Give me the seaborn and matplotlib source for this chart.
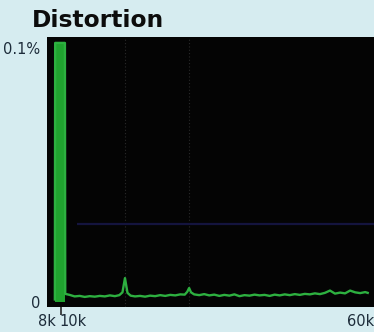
import matplotlib
matplotlib.use("Agg")
import matplotlib.pyplot as plt
import seaborn as sns
import pandas as pd

# Distortion spectrum (THD+N %), frequency in kHz
freq_khz = [9.25, 9.3, 9.7, 10.1, 10.5, 10.85, 10.9,
            11.6, 12.4, 13.2, 14.0, 14.8, 15.6, 16.4, 17.2, 18.0, 18.8, 19.5,
            20.0, 20.4, 20.8, 21.3,
            22.0, 22.8, 23.6, 24.4, 25.2, 26.0, 26.8, 27.6, 28.4, 29.2, 29.9,
            30.3, 30.6, 30.9, 31.4,
            32.2, 33.0, 33.8, 34.6, 35.4, 36.2, 37.0, 37.8, 38.6, 39.4, 40.2,
            41.0, 41.8, 42.6, 43.4, 44.2, 45.0, 45.8, 46.6, 47.4, 48.2, 49.0,
            49.8, 50.6, 51.4, 52.2, 53.0, 53.8, 54.6, 55.4, 56.2, 57.0, 57.8,
            58.6, 59.0]
thd_pct = [0.0010, 0.102, 0.102, 0.102, 0.102, 0.102, 0.0032,
           0.0028, 0.0022, 0.0024, 0.0020, 0.0023, 0.0021, 0.0024, 0.0022, 0.0026,
           0.0023, 0.0027,
           0.0038, 0.0094, 0.0036, 0.0025,
           0.0022, 0.0024, 0.0021, 0.0025, 0.0023, 0.0027, 0.0024, 0.0028, 0.0026,
           0.0030, 0.0029,
           0.0040, 0.0055, 0.0038, 0.0030,
           0.0027, 0.0031, 0.0026, 0.0029, 0.0024, 0.0028, 0.0025, 0.0030, 0.0023,
           0.0027, 0.0025, 0.0029, 0.0026, 0.0028, 0.0024, 0.0029, 0.0026, 0.0030,
           0.0027, 0.0031, 0.0028, 0.0032, 0.0030, 0.0034, 0.0031, 0.0036, 0.0045,
           0.0033, 0.0037, 0.0034, 0.0045, 0.0038, 0.0035, 0.0039, 0.0036]

x_ticks = [8, 10, 60]
x_labels = ["8k", "10k", "60k"]
y_ticks = [0, 0.1]
y_labels = ["0", "0.1%"]

fundamental_khz = 10.2
harmonics_khz = [20.4, 30.6]
ref_level = 0.0307

df = pd.DataFrame({"freq": freq_khz, "thd": thd_pct})

bg = "#d6ecf0"
green = "#2db040"
text_col = "#1d2c3a"

fig = plt.figure(figsize=(3.74, 3.32), dpi=100, facecolor=bg)
ax = fig.add_axes([47 / 374, 25 / 332, 1 - 47 / 374, 270 / 332])
ax.set_facecolor("#040404")

for h in harmonics_khz:
    ax.axvline(h, color="#2a2a2a", lw=0.8, ls=(0, (1, 2)), zorder=1)
ax.hlines(ref_level, 12.8, 60, color="#14143e", lw=1.6, zorder=1)

# clipped fundamental drawn as a solid column
spike = df[df["thd"] > 0.05]
ax.fill_between(spike["freq"], 0, spike["thd"], color="#20a32f", lw=0, zorder=2)

sns.lineplot(data=df, x="freq", y="thd", ax=ax, color=green, lw=1.7, zorder=3)

ax.set_xlim(8, 60)
ax.set_ylim(-5 / 2540, 0.1 + 11 / 2540)
ax.set_xlabel("")
ax.set_ylabel("")
for s in ax.spines.values():
    s.set_visible(False)

ax.set_xticks(x_ticks)
ax.set_xticklabels(x_labels)
ax.set_yticks(y_ticks)
ax.set_yticklabels(y_labels)
ax.set_xticks([fundamental_khz], minor=True)
ax.tick_params(axis="both", which="major", length=0, labelsize=10.5,
               labelcolor=text_col)
ax.tick_params(axis="x", which="major", pad=5)
ax.tick_params(axis="y", which="major", pad=5)
ax.tick_params(axis="x", which="minor", length=6, width=1.2, color="#2a2a2a",
               direction="out")
xl = ax.get_xticklabels()
xl[0].set_ha("center")
xl[1].set_ha("left")
xl[2].set_ha("right")

fig.text(32 / 374, 1 - 27 / 332, "Distortion", fontsize=16.8, fontweight="bold",
         family="DejaVu Sans", color="#0c0c0c", ha="left", va="baseline")

fig.savefig("out.png", dpi=100, facecolor=bg)
